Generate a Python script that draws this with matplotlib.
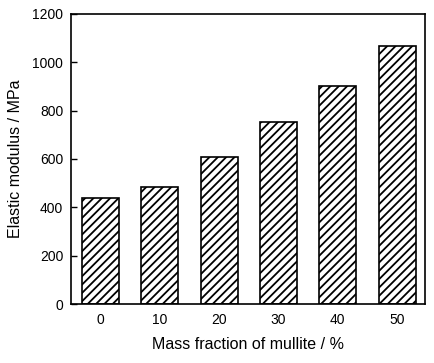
import numpy as np
import matplotlib
matplotlib.use('Agg')
import matplotlib.pyplot as plt

# Mass fraction of mullite [%]
fractions = ['0', '10', '20', '30', '40', '50']

# Elastic modulus [MPa]
modulus = [437, 483, 608, 755, 902, 1069]

plt.rcParams.update({'font.family': ['Liberation Sans', 'DejaVu Sans'],
                     'hatch.linewidth': 1.3})

fig = plt.figure(figsize=(4.35, 3.63), dpi=100)
ax = fig.add_axes([0.163, 0.1625, 0.814, 0.799])

x = np.arange(len(fractions))
ax.bar(x, modulus, width=0.62, color='white', edgecolor='black',
       linewidth=1.2, hatch='////')

ax.set_xlim(-0.5, 5.47)
ax.set_ylim(0, 1200)
ax.set_yticks([0, 200, 400, 600, 800, 1000, 1200])
ax.set_xticks(x)
ax.set_xticklabels(fractions)
ax.tick_params(axis='x', length=0, labelsize=10, pad=6.5)
ax.tick_params(axis='y', direction='in', length=4, width=1.0,
               labelsize=10, pad=5.5)

for spine in ax.spines.values():
    spine.set_linewidth(1.2)

ax.set_xlabel('Mass fraction of mullite / %', fontsize=11.5, labelpad=7)
ax.set_ylabel('Elastic modulus / MPa', fontsize=11.5, labelpad=7)

fig.savefig('out.png', dpi=100)
